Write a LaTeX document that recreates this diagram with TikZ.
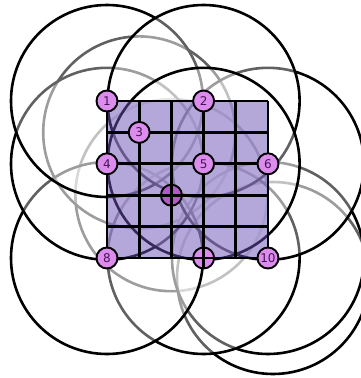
\documentclass[tikz,border=0pt]{standalone}
\usepackage{fontspec}
\setmainfont{DejaVu Sans}
\begin{document}
\begin{tikzpicture}[x=1pt,y=-1pt,
  ring/.style={draw=black,line width=2.6pt,fill=white,fill opacity=0.38},
  gridline/.style={draw=black,line width=2.8pt},
  sensor/.style={circle,draw=black,line width=1.9pt,fill=nodepink,minimum size=21pt,inner sep=0pt,
     font=\fontsize{12}{12}\selectfont,text=nodetext}]
\definecolor{nodepink}{RGB}{220,140,236}
\definecolor{nodedark}{RGB}{178,90,200}
\definecolor{nodetext}{RGB}{70,20,85}
\definecolor{sqfill}{RGB}{107,81,181}
\useasboundingbox (0,0) rectangle (361,378);
\def\cx{32.2}\def\cy{31.4}
\coordinate (p1) at (107,101);
\coordinate (p2) at (203.6,101);
\coordinate (p3) at (139.2,132.4);
\coordinate (p4) at (107,163.8);
\coordinate (p5) at (203.6,163.8);
\coordinate (p6) at (268,163.8);
\coordinate (p7) at (171.4,195.2);
\coordinate (p8) at (107,258);
\coordinate (p9) at (203.6,258);
\coordinate (p10) at (268,258);
\coordinate (px) at (273,278);
% coverage rings, in drawing order
\foreach \p in {p7,p3,px,p10,p9,p8,p4,p1,p6,p2,p5}{
  \path[ring] (\p) circle[radius=96];
}
% region
\fill[sqfill,fill opacity=0.5] (p1) rectangle (p10);
% grid
\foreach \i in {0,...,5}{
  \draw[gridline] (107+\i*\cx,101) -- (107+\i*\cx,258);
  \draw[gridline] (107,101+\i*\cy) -- (268,101+\i*\cy);
}
% crossed nodes
\node[sensor,fill=nodedark] (n7) at (p7) {};
\node[sensor] (n9) at (p9) {};
\draw[gridline] (n7.north) -- (n7.south);
\draw[gridline] (n7.west) -- (n7.east);
\draw[gridline] (n9.north) -- (n9.south);
\draw[gridline] (n9.west) -- (n9.east);
% numbered nodes
\node[sensor] (n1) at (p1) {1};
\node[sensor] (n2) at (p2) {2};
\node[sensor] (n3) at (p3) {3};
\node[sensor] (n4) at (p4) {4};
\node[sensor] (n5) at (p5) {5};
\node[sensor] (n6) at (p6) {6};
\node[sensor] (n8) at (p8) {8};
\node[sensor] (n10) at (p10) {10};
\end{tikzpicture}
\end{document}
